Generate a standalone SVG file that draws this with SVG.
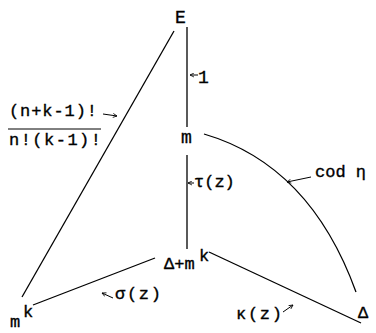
<svg xmlns="http://www.w3.org/2000/svg" width="376" height="333" viewBox="0 0 376 333">
<style>
.t{font-family:"Liberation Mono","DejaVu Sans Mono",monospace;font-size:18px;fill:#000;stroke:#000;stroke-width:0.35}
.s{font-size:17px}
.c{fill:none;stroke:#000;stroke-width:1.3}
.a{fill:none;stroke:#000;stroke-width:1}
</style>
<defs>
<marker id="ah" viewBox="0 0 10 10" refX="9" refY="5" markerWidth="5" markerHeight="5" orient="auto" markerUnits="userSpaceOnUse">
<path d="M1,1 L9,5 L1,9" fill="none" stroke="#000" stroke-width="1.6"/>
</marker>
</defs>
<rect width="376" height="333" fill="#fff"/>
<g id="connectors">
<line class="c" x1="174" y1="31" x2="22" y2="297"/>
<line class="c" x1="187" y1="27" x2="187" y2="127"/>
<line class="c" x1="187" y1="155" x2="187" y2="249"/>
<path class="c" d="M204,134 Q310,165 356,292"/>
<line class="c" x1="155" y1="258" x2="33" y2="305"/>
<line class="c" x1="209" y1="252" x2="361" y2="323"/>
</g>
<g id="labels">
<line class="a" x1="198" y1="75" x2="190" y2="75" marker-end="url(#ah)"/>
<text class="t" x="198" y="83" font-size="20">1</text>
<text class="t s" x="9" y="116" textLength="88">(n+k-1)!</text>
<line class="a" x1="8" y1="129" x2="101" y2="129"/>
<text class="t s" x="9" y="145" textLength="92">n!(k-1)!</text>
<line class="a" x1="103" y1="114" x2="117" y2="116" marker-end="url(#ah)"/>
<line class="a" x1="311" y1="177" x2="287" y2="182" marker-end="url(#ah)"/>
<text class="t s" x="315" y="177">cod η</text>
<line class="a" x1="194" y1="183" x2="188" y2="183" marker-end="url(#ah)"/>
<text class="t s" x="194" y="187">τ(z)</text>
<line class="a" x1="113" y1="298" x2="102" y2="293" marker-end="url(#ah)"/>
<text class="t s" x="115" y="299" textLength="46">σ(z)</text>
<text class="t s" x="236" y="319" textLength="46">κ(z)</text>
<line class="a" x1="283" y1="312" x2="293" y2="305" marker-end="url(#ah)"/>
</g>
<g id="node-E"><text class="t" x="175" y="23" font-size="20">E</text></g>
<g id="node-m"><text class="t" x="181" y="143">m</text></g>
<g id="node-delta-plus-mk"><text class="t s" x="164" y="269">Δ+m</text><text class="t s" x="199" y="261">k</text></g>
<g id="node-mk"><text class="t s" x="10" y="327">m</text><text class="t s" x="23" y="317">k</text></g>
<g id="node-delta"><text class="t s" x="358" y="318">Δ</text></g>
</svg>
